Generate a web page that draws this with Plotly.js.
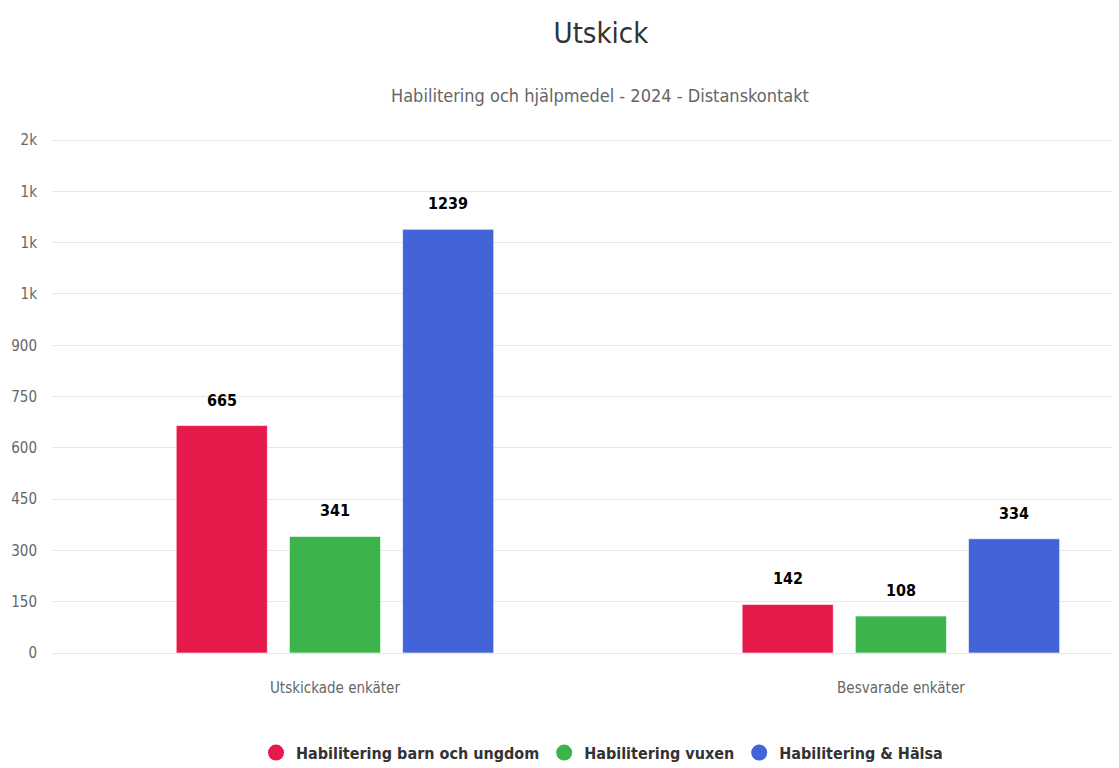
<!DOCTYPE html>
<html>
<head>
<meta charset="utf-8">
<script src="https://cdn.plot.ly/plotly-3.0.1.min.js"></script>
<style>html,body{margin:0;padding:0;background:#fff;}#chart{width:1119px;height:768px;}</style>
</head>
<body>
<div id="chart"></div>
<script>
const categories = ["Utskickade enkäter", "Besvarade enkäter"];
const seriesNames = ["Habilitering barn och ungdom", "Habilitering vuxen", "Habilitering & Hälsa"];
const barnUngdom = [665, 142];
const vuxen = [341, 108];
const halsa = [1239, 334];
const seriesColors = ["#E6194B", "#3CB44B", "#4363D8"];
const tickValues = [0, 150, 300, 450, 600, 750, 900, 1050, 1200, 1350, 1500];
const tickLabels = ["0", "150", "300", "450", "600", "750", "900", "1k", "1k", "1k", "2k"];
const titleText = "Utskick";
const subtitleText = "Habilitering och hjälpmedel - 2024 - Distanskontakt";

const FONT = "'DejaVu Sans Condensed', 'Liberation Sans Narrow', 'Open Sans', sans-serif";
const seriesValues = [barnUngdom, vuxen, halsa];
const BARGAP = 0.40;
const nSeries = seriesValues.length;
const slot = (1 - BARGAP) / nSeries;

const traces = [];
seriesValues.forEach((vals, i) => {
  traces.push({
    type: "bar",
    x: categories,
    y: vals,
    name: seriesNames[i],
    showlegend: false,
    marker: {color: seriesColors[i], line: {color: "rgba(255,255,255,0.6)", width: 1}},
    hoverinfo: "x+y+name"
  });
});
seriesValues.forEach((vals, i) => {
  traces.push({
    type: "scatter",
    mode: "markers",
    x: [null], y: [null],
    name: seriesNames[i],
    marker: {color: seriesColors[i], symbol: "circle", size: 16},
    showlegend: true,
    hoverinfo: "skip"
  });
});

// value labels placed through the axis scales (category index + group offset)
const labelAnnotations = [];
seriesValues.forEach((vals, i) => {
  vals.forEach((v, j) => {
    labelAnnotations.push({
      x: j + (i - (nSeries - 1) / 2) * slot, xref: "x",
      y: v, yref: "y",
      text: String(v), showarrow: false,
      xanchor: "center", yanchor: "bottom", yshift: 14,
      font: {family: FONT, size: 16, color: "#000000", weight: "bold"}
    });
  });
});

const layout = {
  width: 1119, height: 768,
  paper_bgcolor: "#ffffff", plot_bgcolor: "#ffffff",
  margin: {l: 52, r: 7, t: 137, b: 115},
  font: {family: FONT, color: "#666666"},
  title: {text: titleText, font: {family: FONT, size: 29, color: "#333333"}, x: 0.537, xref: "container", xanchor: "center", y: 0.957, yref: "container", yanchor: "middle"},
  annotations: [{
    text: subtitleText, xref: "paper", yref: "paper", x: 0.517, y: 1.0795,
    xanchor: "center", yanchor: "middle", showarrow: false,
    font: {family: FONT, size: 18, color: "#666666"}
  }].concat(labelAnnotations),
  barmode: "group",
  bargap: BARGAP,
  bargroupgap: 0.195,
  xaxis: {
    type: "category",
    range: [-0.5, 1.373],
    showgrid: false, zeroline: false,
    showline: false,
    ticks: "", ticklabelstandoff: 24,
    tickfont: {family: FONT, size: 15, color: "#666666"},
    fixedrange: true
  },
  yaxis: {
    range: [0, 1509],
    tickvals: tickValues, ticktext: tickLabels,
    showgrid: true, gridcolor: "#e6e6e6", gridwidth: 1,
    zeroline: true, zerolinecolor: "#e6e6e6", zerolinewidth: 1,
    showline: false, ticks: "", ticklabelstandoff: 14,
    tickfont: {family: FONT, size: 15, color: "#666666"},
    fixedrange: true
  },
  legend: {
    orientation: "h", xref: "container", yref: "container",
    x: 0.538, xanchor: "center", y: 0.02, yanchor: "middle",
    font: {family: FONT, size: 16, color: "#333333", weight: "bold"},
    itemsizing: "trace", itemwidth: 30, tracegroupgap: 0
  },
  showlegend: true
};

Plotly.newPlot("chart", traces, layout, {displayModeBar: false});
</script>
</body>
</html>
